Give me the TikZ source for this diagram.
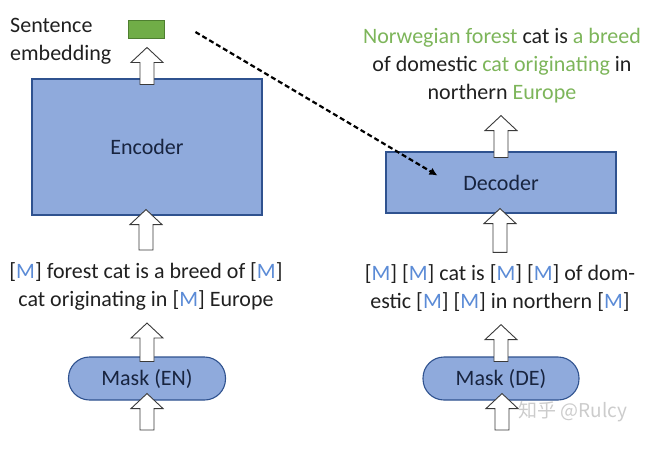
\documentclass[tikz,border=0pt]{standalone}
\usepackage{fontspec}
\setmainfont{Carlito}
\newfontfamily\cjkfont{Noto Sans CJK SC}
\usetikzlibrary{calc,arrows.meta}
\definecolor{boxfill}{HTML}{8FAADC}
\definecolor{boxline}{HTML}{2F528F}
\definecolor{boxtext}{HTML}{18243F}
\definecolor{embfill}{HTML}{70AD47}
\definecolor{embline}{HTML}{4E7F30}
\definecolor{outgreen}{HTML}{7DB55A}
\definecolor{maskblue}{HTML}{5B8BD6}
\definecolor{txtgray}{HTML}{202020}
\definecolor{arrline}{HTML}{3A3A3A}
\newcommand\mtok{[\textcolor{maskblue}{M}]}
\newcommand\gr[1]{\textcolor{outgreen}{#1}}
% hollow block arrow, going up from #1 to the tip #2
\newcommand\hollow[2]{%
  \path let \p1=(#1), \p2=(#2) in
    [draw=arrline, fill=white, line width=0.9pt]
    ({\x1-7pt},\y1) -- ({\x1-7pt},{\y2-15pt}) -- ({\x1-16pt},{\y2-15pt})
    -- (\x1,\y2) -- ({\x1+16pt},{\y2-15pt}) -- ({\x1+7pt},{\y2-15pt})
    -- ({\x1+7pt},\y1) -- cycle;}
\begin{document}
\begin{tikzpicture}[x=1pt,y=-1pt,
    every node/.style={font=\fontsize{22}{28}\selectfont, text=txtgray, inner sep=0pt},
    block/.style={draw=boxline, fill=boxfill, line width=1.1pt, text=boxtext},
    maskbox/.style={block, rounded corners=21pt, minimum width=157pt, minimum height=43pt},
    words/.style={align=center}]
    \useasboundingbox (0,0) rectangle (660,452);
    % left column, english side
    \node[block, minimum width=230pt, minimum height=136pt] (enc) at (147,147) {Encoder};
    \node[draw=embline, fill=embfill, line width=0.9pt, minimum width=36pt, minimum height=18pt] (emb) at (146,29) {};
    \node[align=left, anchor=west] (embtxt) at (10,41) {Sentence\\embedding};
    \node[words] (entxt) at (146,286) {\mtok{} forest cat is a breed of \mtok\\cat originating in \mtok{} Europe};
    \node[maskbox] (mask1) at (147,378.5) {Mask (EN)};
    \coordinate (in1) at (147,430);
    % right column, german side
    \node[block, minimum width=230pt, minimum height=61pt] (dec) at (501,182.5) {Decoder};
    \node[words] (out) at (502,66)
        {\gr{Norwegian forest} cat is \gr{a breed}\\of domestic \gr{cat originating} in\\northern \gr{Europe}};
    \node[words] (detxt) at (500,288) {\mtok{} \mtok{} cat is \mtok{} \mtok{} of dom-\\estic \mtok{} \mtok{} in northern \mtok};
    \node[maskbox, minimum width=156pt] (mask2) at (501,378.5) {Mask (DE)};
    \coordinate (in2) at (502,430);
    % the hollow arrows
    \hollow{in1}{$(mask1.south)+(0,-7)$}
    \hollow{$(mask1.north)+(0,5)$}{$(entxt.south)+(0,13)$}
    \hollow{$(entxt.north)+(0,-12)$}{$(enc.south)+(0,-6)$}
    \hollow{$(enc.north)+(0,6)$}{$(emb.south)+(0,9)$}
    \hollow{in2}{$(mask2.south)+(0,-7)$}
    \hollow{$(mask2.north)+(0,5)$}{$(detxt.south)+(0,13)$}
    \hollow{$(detxt.north)+(0,-12)$}{$(dec.south)+(0,-5)$}
    \hollow{$(dec.north)+(0,6)$}{$(out.south)+(0,12)$}
    % embedding goes to the decoder
    \draw[line width=2.2pt, dash pattern=on 5pt off 3pt, -{Latex[length=8pt,width=8pt]}]
        ($(emb.east)+(31,3)$) -- ($(dec.west)+(52,-7)$);
    \node[font=\cjkfont\fontsize{19}{19}\selectfont, text=gray!40] (mark) at (573,412) {知乎 @Rulcy};
\end{tikzpicture}
\end{document}
